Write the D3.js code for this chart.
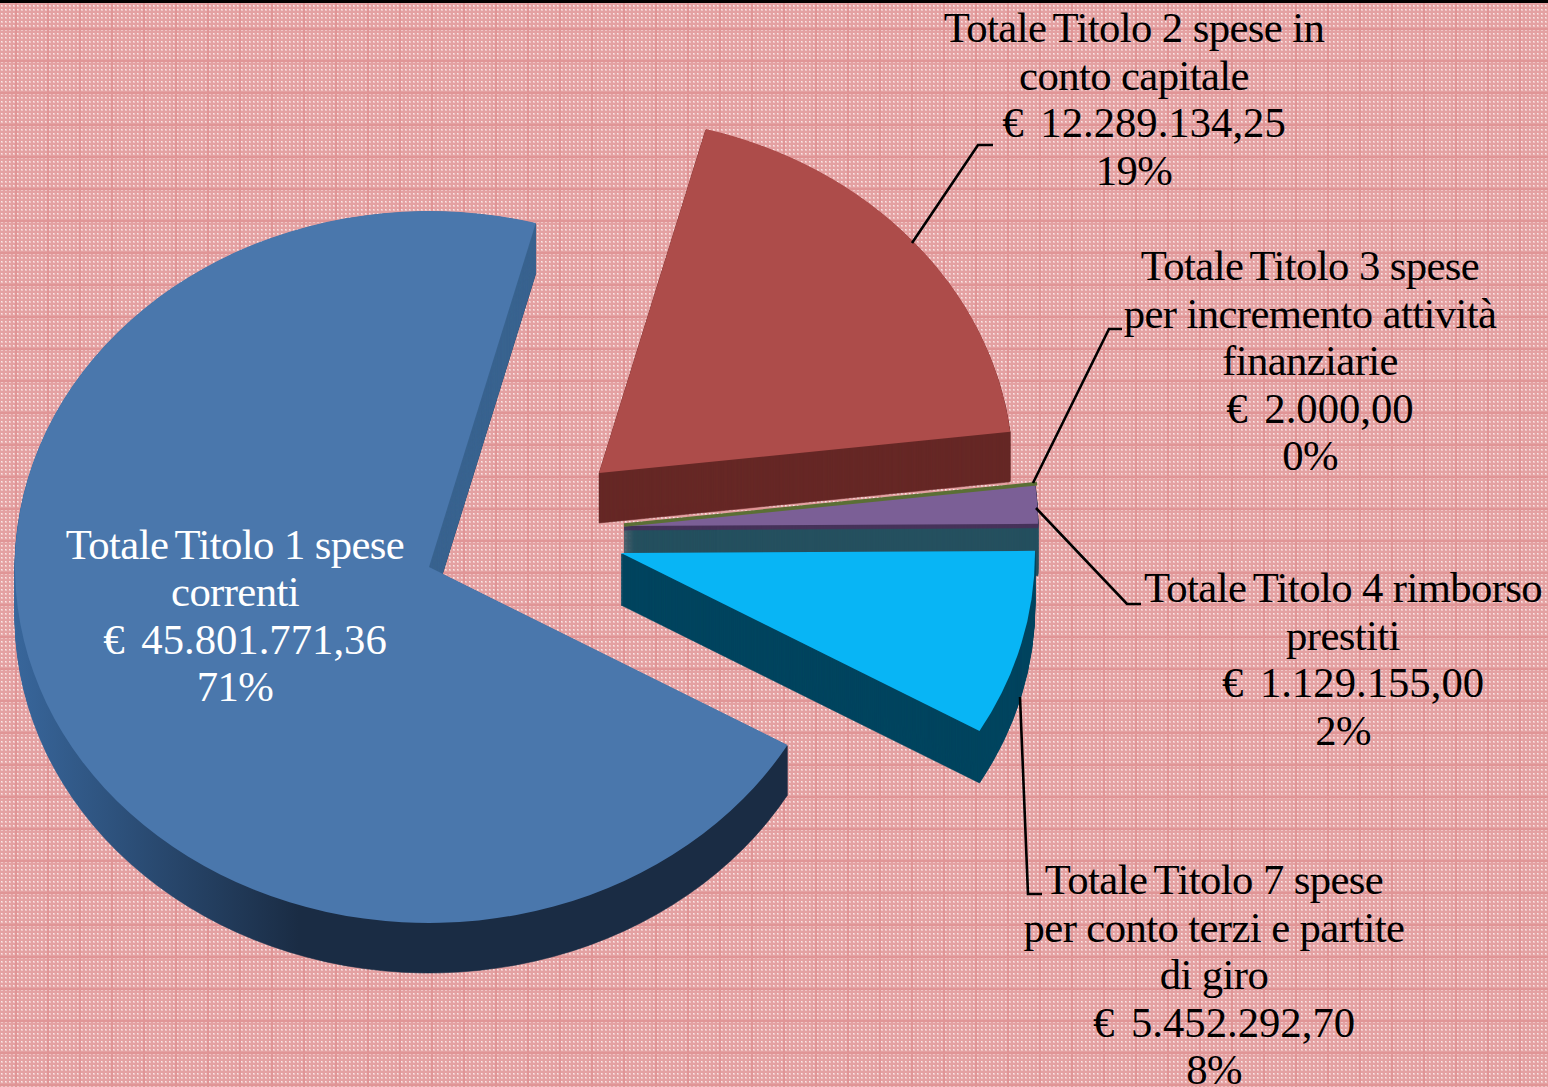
<!DOCTYPE html>
<html><head><meta charset="utf-8">
<script src="https://cdn.jsdelivr.net/npm/d3@7/dist/d3.min.js"></script>
<style>html,body{margin:0;padding:0;background:#e6a8a8}svg{display:block}</style>
</head><body><div id="c"></div>
<script>
const categories = ["Totale Titolo 1 spese correnti","Totale Titolo 2 spese in conto capitale","Totale Titolo 3 spese per incremento attività finanziarie","Totale Titolo 4 rimborso prestiti","Totale Titolo 7 spese per conto terzi e partite di giro"];
const values = [45801771.36,12289134.25,2000.00,1129155.00,5452292.70];
const percents = ["71%","19%","0%","2%","8%"];
const amounts = ["€ 45.801.771,36","€ 12.289.134,25","€ 2.000,00","€ 1.129.155,00","€ 5.452.292,70"];
const labelLines = [
  ["Totale Titolo 1 spese","correnti"],
  ["Totale Titolo 2 spese in","conto capitale"],
  ["Totale Titolo 3 spese","per incremento attività","finanziarie"],
  ["Totale Titolo 4 rimborso","prestiti"],
  ["Totale Titolo 7 spese","per conto terzi e partite","di giro"]
];
const topColors = ["#4a77ac","#ad4c4a","#5b6f35","#7b5f96","#08b5f5"];
const wallColors = ["url(#blueWall)","#672826","#5b6f35","#25505f","#00455f"];

// layout
const W=1548,H=1087,RX=414,RY=356,DEPTH=50;
const centres=[[429,567],[599,473],[624,525],[624,526],[621,553]];
const labelPos=[[235,558.5,"#fff"],[1134,42,"#000"],[1310,280,"#000"],[1343,602,"#000"],[1214,894,"#000"]];
const LH=47.5, FS=42.7, EURO=10;
const leaders=[
  [[912,243],[978,145],[993,145]],
  [[1033,483],[1109,329],[1122,329]],
  [[1036,508],[1127,604],[1141,604]],
  [[1020,697],[1028,894],[1042,894]]
];

const svg=d3.select("#c").append("svg").attr("width",W).attr("height",H).attr("viewBox",`0 0 ${W} ${H}`);
const defs=svg.append("defs");
// background texture
const pat=defs.append("pattern").attr("id","bg").attr("patternUnits","userSpaceOnUse").attr("width",32).attr("height",32).attr("y",-4);
pat.append("rect").attr("width",32).attr("height",32).attr("fill","#e4a1a2");
d3.range(0,32,4).forEach(x=>d3.range(0,32,4).forEach(y=>{
  pat.append("rect").attr("x",x+1).attr("y",y+1).attr("width",2).attr("height",2).attr("fill","#efc4c4");
  pat.append("rect").attr("x",x+1).attr("y",y+1).attr("width",1).attr("height",1).attr("fill","#fae8e8");
}));
pat.append("rect").attr("x",15).attr("width",2).attr("height",32).attr("fill","#e09596");
pat.append("rect").attr("y",0).attr("width",32).attr("height",2).attr("fill","#e09596");
svg.append("rect").attr("width",W).attr("height",H).attr("fill","url(#bg)");
svg.append("rect").attr("width",W).attr("height",3).attr("fill","#000");

// gradient is read in each wall's own coordinates, whose origin is the slice centre
const grad=defs.append("linearGradient").attr("id","blueWall").attr("gradientUnits","userSpaceOnUse").attr("x1",-RX).attr("x2",-130).attr("y1",0).attr("y2",0);
grad.append("stop").attr("offset",0).attr("stop-color","#38669b");
grad.append("stop").attr("offset",1).attr("stop-color","#1a2c44");
defs.append("clipPath").attr("id","startWall").append("rect").attr("x",300).attr("y",0).attr("width",500).attr("height",640);

const pie=d3.pie().sort(null).startAngle(120*Math.PI/180).endAngle(480*Math.PI/180);
const arcs=pie(values);
const arc=d3.arc().innerRadius(0).outerRadius(RX);
const place=(i,dy)=>`translate(${centres[i][0]},${centres[i][1]+dy}) scale(1,${RY/RX})`;

function wall(i,depth,fill,clip){
  const g=svg.append("g");
  if(clip) g.attr("clip-path",clip);
  g.selectAll("path").data(d3.range(depth,0,-1)).join("path")
    .attr("d",arc(arcs[i])).attr("transform",d=>place(i,d)).attr("fill",fill)
    .attr("stroke",fill).attr("stroke-width",0.6).attr("vector-effect","non-scaling-stroke");
}
function face(i){
  svg.append("path").attr("d",arc(arcs[i])).attr("transform",place(i,0)).attr("fill",topColors[i]);
}
// Titolo 1
wall(0,DEPTH,wallColors[0]);
wall(0,DEPTH,"#3a6491","url(#startWall)");
face(0);
// Titolo 2
wall(1,DEPTH,wallColors[1]); face(1);
// Titolo 4
wall(3,DEPTH+2,wallColors[3]);
wall(3,4,"#46335a");
face(3);
// Titolo 3 (a sliver: stroked so that it stays visible)
svg.append("path").attr("d",arc(arcs[2])).attr("transform",place(2,0))
  .attr("fill",topColors[2]).attr("stroke",topColors[2]).attr("stroke-width",3.6).attr("vector-effect","non-scaling-stroke");
// Titolo 7
wall(4,DEPTH+2,wallColors[4]); face(4);

// leaders
const lineGen=d3.line();
svg.append("g").selectAll("path").data(leaders).join("path")
  .attr("d",lineGen).attr("fill","none").attr("stroke","#000").attr("stroke-width",2.6);

// labels
const lg=svg.append("g").attr("font-family","'Liberation Serif'").attr("font-size",FS).attr("text-anchor","middle");
labelLines.forEach((ls,i)=>{
  const [x,y,col]=labelPos[i];
  const all=[...ls,amounts[i],percents[i]];
  all.forEach((t,j)=>{
    const isAmount=t.startsWith("€");
    const el=lg.append("text").attr("x",isAmount?x+EURO:x).attr("y",y+j*LH).attr("fill",col)
      .attr("letter-spacing",isAmount?0:-0.6);
    const m=t.match(/^(Totale) (Titolo.*)$/);
    if(m){ el.append("tspan").text(m[1]+" "); el.append("tspan").attr("dx",-3).text(m[2]); }
    else if(isAmount){ el.append("tspan").text("€ "); el.append("tspan").attr("dx",6).text(t.slice(2)); }
    else el.text(t);
  });
});
</script></body></html>
